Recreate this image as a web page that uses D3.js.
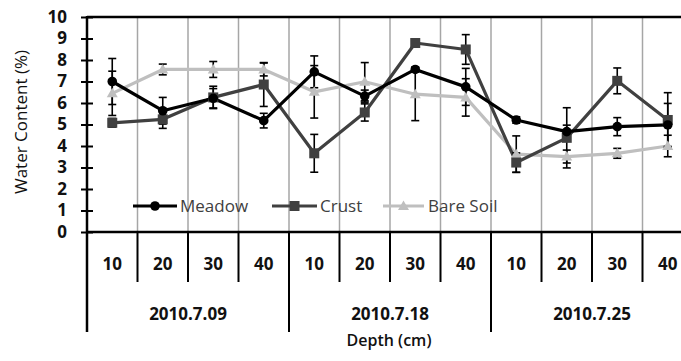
<!DOCTYPE html>
<html>
<head>
<meta charset="utf-8">
<script src="https://cdn.jsdelivr.net/npm/d3@7/dist/d3.min.js"></script>
<style>
  html, body { margin: 0; padding: 0; background: #fff; }
  svg { display: block; overflow: hidden; }
  text { font-family: "Open Sans", "Liberation Sans", sans-serif; }
</style>
</head>
<body>
<svg id="chart" width="681" height="361"></svg>
<script>
// Soil water content by sampling date and depth
const dates = ["2010.7.09", "2010.7.18", "2010.7.25"];
const depths = ["10", "20", "30", "40"];
const yTicks = [0, 1, 2, 3, 4, 5, 6, 7, 8, 9, 10];

const meadow    = [7.00, 5.64, 6.22, 5.18, 7.45, 6.32, 7.56, 6.75, 5.21, 4.67, 4.90, 4.98];
const meadowErr = [1.07, 0.62, 0.45, 0.34, 0.74, 0.28, 0.12, 0.86, 0.15, 0.30, 0.42, 1.00];
const crust     = [5.08, 5.24, 6.26, 6.86, 3.66, 5.56, 8.79, 8.49, 3.23, 4.38, 7.03, 5.21];
const crustErr  = [0.20, 0.42, 0.52, 1.02, 0.88, 0.40, 0.15, 0.69, 0.45, 1.40, 0.60, 1.27];
const bare      = [6.45, 7.56, 7.56, 7.56, 6.52, 6.99, 6.41, 6.26, 3.62, 3.51, 3.66, 4.00];
const bareErr   = [1.03, 0.25, 0.37, 0.30, 1.22, 0.89, 1.23, 0.87, 0.85, 0.30, 0.23, 0.50];

const series = [
  { name: "Meadow",    values: meadow, err: meadowErr, color: "#000000", marker: "circle" },
  { name: "Crust",     values: crust,  err: crustErr,  color: "#404040", marker: "square" },
  { name: "Bare Soil", values: bare,   err: bareErr,   color: "#bfbfbf", marker: "triangle" }
];

// Every (date, depth) pair is one category on the x axis
const cats = [];
dates.forEach((d, gi) => depths.forEach((dp, di) => cats.push({ date: d, depth: dp, gi, di })));
const idx = d3.range(cats.length);

const svg = d3.select("#chart");
const plotLeft = 87, plotTop = 17, plotBottom = 232, plotRight = 693;

const x = d3.scaleBand().domain(idx).range([plotLeft, plotRight]).padding(0);
const y = d3.scaleLinear().domain([0, 10]).range([plotBottom, plotTop]);
const bw = x.bandwidth();
const cx = i => x(i) + bw / 2;

// Vertical grid lines between categories
const bounds = d3.range(1, cats.length).map(i => x(i));
svg.append("g").selectAll("line").data(bounds).join("line")
  .attr("x1", d => d).attr("x2", d => d)
  .attr("y1", plotTop).attr("y2", plotBottom)
  .attr("stroke", "#a6a6a6").attr("stroke-width", 1.5);

// Plot border (top)
svg.append("line").attr("x1", plotLeft).attr("x2", plotRight + 2).attr("y1", plotTop).attr("y2", plotTop)
  .attr("stroke", "#000").attr("stroke-width", 2.5);

// Y axis with crossing ticks
const yAxis = d3.axisLeft(y).tickValues(yTicks).tickSize(6).tickPadding(14).tickFormat(d3.format("d"));
const gy = svg.append("g").attr("transform", `translate(${plotLeft},0)`).call(yAxis);
gy.select(".domain").remove();
gy.selectAll(".tick line").attr("x1", 6).attr("stroke", "#000").attr("stroke-width", 2);
gy.selectAll(".tick text")
  .attr("font-size", 17).attr("font-weight", 700).attr("fill", "#111")
  .style("font-family", "'Open Sans', sans-serif");
svg.append("line").attr("x1", plotLeft).attr("x2", plotLeft).attr("y1", plotTop - 1).attr("y2", 332)
  .attr("stroke", "#000").attr("stroke-width", 2.5);

// X axis: depth labels, then date groups
const xAxis = d3.axisBottom(x).tickSize(0).tickPadding(0).tickFormat(i => cats[i].depth);
const gx = svg.append("g").attr("transform", `translate(0,${plotBottom})`).call(xAxis);
gx.select(".domain").remove();
gx.selectAll(".tick text")
  .attr("y", 32).attr("dy", "0.35em")
  .attr("font-size", 17).attr("font-weight", 700).attr("fill", "#111")
  .style("font-family", "'Open Sans', sans-serif");

svg.append("line").attr("x1", plotLeft).attr("x2", plotRight + 2).attr("y1", plotBottom).attr("y2", plotBottom)
  .attr("stroke", "#000").attr("stroke-width", 2.5);

// Separators under the axis: short between depths, long between dates
svg.append("g").selectAll("line").data(d3.range(1, cats.length + 1)).join("line")
  .attr("x1", i => i < cats.length ? x(i) : plotRight).attr("x2", i => i < cats.length ? x(i) : plotRight)
  .attr("y1", plotBottom)
  .attr("y2", i => (i % depths.length === 0) ? 332 : 282)
  .attr("stroke", "#000").attr("stroke-width", 2);

svg.append("g").selectAll("text").data(dates).join("text")
  .attr("x", (d, gi) => (x(gi * depths.length) + x(gi * depths.length + depths.length - 1) + bw) / 2)
  .attr("y", 314).attr("dy", "0.35em")
  .attr("text-anchor", "middle")
  .attr("font-size", 17).attr("font-weight", 700).attr("fill", "#111")
  .text(d => d);

// Axis titles
svg.append("text").attr("x", 389).attr("y", 340).attr("dy", "0.35em")
  .attr("text-anchor", "middle").attr("font-size", 16).attr("font-weight", 600).attr("fill", "#111")
  .text("Depth (cm)");
svg.append("text").attr("transform", "translate(21,122) rotate(-90)").attr("dy", "0.35em")
  .attr("text-anchor", "middle").attr("font-size", 17).attr("fill", "#111")
  .text("Water Content (%)");

// Markers
function drawMarker(g, type, color) {
  if (type === "circle") {
    g.append("circle").attr("r", 4.8).attr("fill", color);
  } else if (type === "square") {
    g.append("rect").attr("x", -5).attr("y", -5).attr("width", 10).attr("height", 10).attr("fill", color);
  } else {
    g.append("path").attr("d", "M0,-5.5L5.5,4L-5.5,4Z").attr("fill", color);
  }
}

const line = d3.line().x((d, i) => cx(i)).y(d => y(d));

// Lines (lighter series underneath)
const order = [2, 1, 0];
order.forEach(si => {
  const s = series[si];
  svg.append("path").datum(s.values).attr("d", line)
    .attr("fill", "none").attr("stroke", s.color).attr("stroke-width", 3.2)
    .attr("stroke-linejoin", "round");
});

// Error bars
series.forEach(s => {
  const g = svg.append("g").attr("stroke", "#000").attr("stroke-width", 1.6);
  s.values.forEach((v, i) => {
    const hi = y(v + s.err[i]), lo = y(v - s.err[i]);
    g.append("line").attr("x1", cx(i)).attr("x2", cx(i)).attr("y1", hi).attr("y2", lo);
    g.append("line").attr("x1", cx(i) - 4).attr("x2", cx(i) + 4).attr("y1", hi).attr("y2", hi);
    g.append("line").attr("x1", cx(i) - 4).attr("x2", cx(i) + 4).attr("y1", lo).attr("y2", lo);
  });
});

order.forEach(si => {
  const s = series[si];
  s.values.forEach((v, i) => {
    const g = svg.append("g").attr("transform", `translate(${cx(i)},${y(v)})`);
    drawMarker(g, s.marker, s.color);
  });
});

// Legend
const legendItems = [
  { s: series[0], x0: 133, x1: 177, tx: 180 },
  { s: series[1], x0: 272, x1: 317, tx: 320 },
  { s: series[2], x0: 383, x1: 424, tx: 428 }
];
legendItems.forEach(it => {
  const ly = 206;
  svg.append("line").attr("x1", it.x0).attr("x2", it.x1).attr("y1", ly).attr("y2", ly)
    .attr("stroke", it.s.color).attr("stroke-width", 3.2);
  const g = svg.append("g").attr("transform", `translate(${(it.x0 + it.x1) / 2},${ly})`);
  drawMarker(g, it.s.marker, it.s.color);
  svg.append("text").attr("x", it.tx).attr("y", ly).attr("dy", "0.35em")
    .attr("font-size", 17).attr("fill", "#404040").text(it.s.name);
});
</script>
</body>
</html>
